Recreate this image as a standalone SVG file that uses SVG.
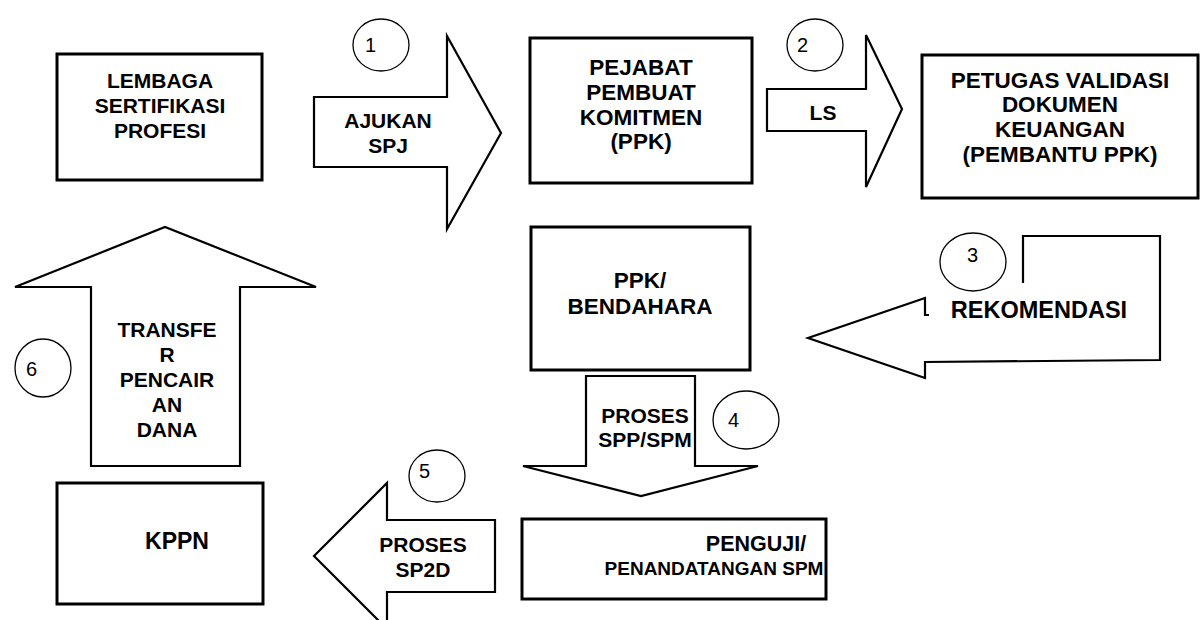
<svg xmlns="http://www.w3.org/2000/svg" width="1203" height="620" viewBox="0 0 1203 620">
<style>
.b{fill:#fff;stroke:#000;stroke-width:3}
.a{fill:#fff;stroke:#000;stroke-width:2.2;stroke-linejoin:miter}
.c{fill:#fff;stroke:#000;stroke-width:1.3}
.t{font-family:"Liberation Sans",Arial,sans-serif;font-weight:bold;font-size:21px;text-anchor:middle;fill:#000}
.u{font-family:"Liberation Sans",Arial,sans-serif;font-weight:bold;font-size:22.5px;text-anchor:middle;fill:#000}
.n{font-family:"Liberation Sans",Arial,sans-serif;font-size:20px;fill:#000}
</style>
<rect width="1203" height="620" fill="#fff"/>
<g id="connectors">
<g id="arrow1"><polygon class="a" points="314,97 447,97 447,36 501,133 447,229 447,167 314,167"/>
<text class="t" x="388" y="128">AJUKAN</text><text class="t" x="388" y="153">SPJ</text></g>
<g id="arrow2"><polygon class="a" points="767,89 866,89 866,35 902,109 866,187 866,131 767,131"/>
<text class="t" x="823" y="120">LS</text></g>
<g id="arrow3"><path class="a" d="M929,315 L925,315 L925,298 L808,338 L925,378 L925,362 L1160,360 L1160,236 L1023,236 L1023,283"/>
<text class="u" x="1039" y="318" style="font-size:23.5px">REKOMENDASI</text></g>
<g id="arrow4"><polygon class="a" points="586,376 695,376 695,466 758,466 641,496 523,466 586,466"/>
<text class="t" x="645" y="423">PROSES</text><text class="t" x="645" y="447">SPP/SPM</text></g>
<g id="arrow5"><polygon class="a" points="495,520 495,592 387,592 387,629 314,556 387,483 387,520"/>
<text class="t" x="423" y="552">PROSES</text><text class="t" x="423" y="577">SP2D</text></g>
<g id="arrow6"><polygon class="a" points="91,466 91,287 15,287 165,227 316,287 240,287 240,466"/>
<text class="t" x="167" y="337">TRANSFE</text><text class="t" x="167" y="362">R</text><text class="t" x="167" y="387">PENCAIR</text><text class="t" x="167" y="412">AN</text><text class="t" x="167" y="437">DANA</text></g>
</g>
<g id="lsp"><rect class="b" x="57" y="54" width="205" height="126"/>
<text class="t" x="160" y="88">LEMBAGA</text><text class="t" x="160" y="113">SERTIFIKASI</text><text class="t" x="160" y="138">PROFESI</text></g>
<g id="ppk"><rect class="b" x="530" y="38" width="222" height="145"/>
<text class="u" x="641" y="75">PEJABAT</text><text class="u" x="641" y="100">PEMBUAT</text><text class="u" x="641" y="125">KOMITMEN</text><text class="u" x="641" y="149">(PPK)</text></g>
<g id="petugas"><rect class="b" x="922" y="55" width="276" height="143"/>
<text class="u" x="1060" y="88">PETUGAS VALIDASI</text><text class="u" x="1060" y="112">DOKUMEN</text><text class="u" x="1060" y="137">KEUANGAN</text><text class="u" x="1060" y="162">(PEMBANTU PPK)</text></g>
<g id="bendahara"><rect class="b" x="531" y="227" width="219" height="143"/>
<text class="u" x="640" y="288">PPK/</text><text class="u" x="640" y="314">BENDAHARA</text></g>
<g id="penguji"><rect class="b" x="522" y="519" width="304" height="80"/>
<text class="u" x="756" y="551" style="font-size:21.5px">PENGUJI/</text><text class="u" x="714" y="575" style="font-size:19px">PENANDATANGAN SPM</text></g>
<g id="kppn"><rect class="b" x="57" y="483" width="206" height="121"/>
<text class="u" x="177" y="549" style="font-size:23px">KPPN</text></g>
<g id="circles">
<ellipse class="c" cx="381" cy="45" rx="28" ry="26"/><text class="n" x="365" y="52">1</text>
<ellipse class="c" cx="815" cy="45" rx="28" ry="26"/><text class="n" x="797" y="52">2</text>
<ellipse class="c" cx="973" cy="262" rx="33" ry="29"/><text class="n" x="967" y="262">3</text>
<ellipse class="c" cx="746" cy="420" rx="33" ry="29"/><text class="n" x="728" y="427">4</text>
<ellipse class="c" cx="437" cy="476" rx="28" ry="26"/><text class="n" x="419" y="478">5</text>
<ellipse class="c" cx="43" cy="368" rx="28" ry="29"/><text class="n" x="26" y="376">6</text>
</g>
</svg>
